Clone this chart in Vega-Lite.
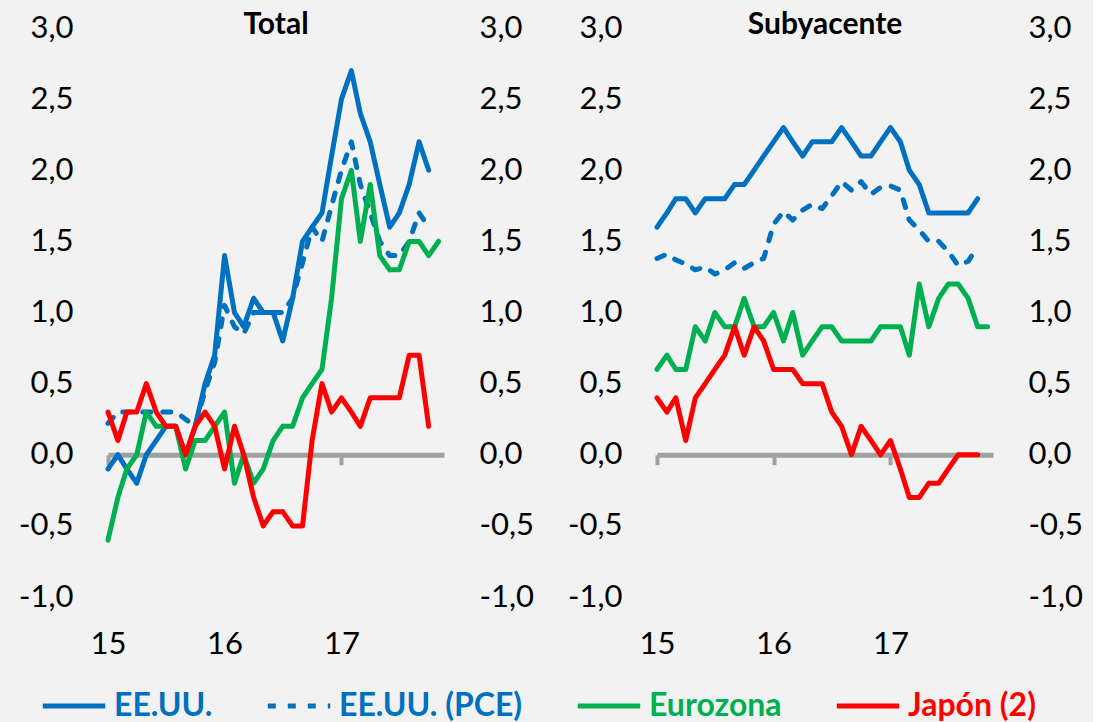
{
  "$schema": "https://vega.github.io/schema/vega-lite/v6.json",
  "background": "#F2F2F2",
  "padding": {"left": 18, "top": 10, "right": 10, "bottom": 0},
  "data": {"values": [
    {"p":"T","d":"2015-01-01","us":-0.1,"pce":0.22,"ez":-0.6,"jp":0.3},
    {"p":"T","d":"2015-02-01","us":0.0,"pce":0.3,"ez":-0.3,"jp":0.1},
    {"p":"T","d":"2015-03-01","us":-0.1,"pce":0.3,"ez":-0.1,"jp":0.3},
    {"p":"T","d":"2015-04-01","us":-0.2,"pce":0.3,"ez":0.0,"jp":0.3},
    {"p":"T","d":"2015-05-01","us":0.0,"pce":0.3,"ez":0.3,"jp":0.5},
    {"p":"T","d":"2015-06-01","us":0.1,"pce":0.3,"ez":0.2,"jp":0.3},
    {"p":"T","d":"2015-07-01","us":0.2,"pce":0.3,"ez":0.2,"jp":0.2},
    {"p":"T","d":"2015-08-01","us":0.2,"pce":0.3,"ez":0.2,"jp":0.2},
    {"p":"T","d":"2015-09-01","us":0.0,"pce":0.25,"ez":-0.1,"jp":0.0},
    {"p":"T","d":"2015-10-01","us":0.2,"pce":0.2,"ez":0.1,"jp":0.2},
    {"p":"T","d":"2015-11-01","us":0.5,"pce":0.45,"ez":0.1,"jp":0.3},
    {"p":"T","d":"2015-12-01","us":0.7,"pce":0.65,"ez":0.2,"jp":0.2},
    {"p":"T","d":"2016-01-01","us":1.4,"pce":1.05,"ez":0.3,"jp":-0.1},
    {"p":"T","d":"2016-02-01","us":1.0,"pce":0.9,"ez":-0.2,"jp":0.2},
    {"p":"T","d":"2016-03-01","us":0.9,"pce":0.85,"ez":0.0,"jp":0.0},
    {"p":"T","d":"2016-04-01","us":1.1,"pce":1.0,"ez":-0.2,"jp":-0.3},
    {"p":"T","d":"2016-05-01","us":1.0,"pce":1.0,"ez":-0.1,"jp":-0.5},
    {"p":"T","d":"2016-06-01","us":1.0,"pce":1.0,"ez":0.1,"jp":-0.4},
    {"p":"T","d":"2016-07-01","us":0.8,"pce":1.0,"ez":0.2,"jp":-0.4},
    {"p":"T","d":"2016-08-01","us":1.1,"pce":1.1,"ez":0.2,"jp":-0.5},
    {"p":"T","d":"2016-09-01","us":1.5,"pce":1.35,"ez":0.4,"jp":-0.5},
    {"p":"T","d":"2016-10-01","us":1.6,"pce":1.6,"ez":0.5,"jp":0.1},
    {"p":"T","d":"2016-11-01","us":1.7,"pce":1.5,"ez":0.6,"jp":0.5},
    {"p":"T","d":"2016-12-01","us":2.1,"pce":1.75,"ez":1.1,"jp":0.3},
    {"p":"T","d":"2017-01-01","us":2.5,"pce":2.0,"ez":1.8,"jp":0.4},
    {"p":"T","d":"2017-02-01","us":2.7,"pce":2.2,"ez":2.0,"jp":0.3},
    {"p":"T","d":"2017-03-01","us":2.4,"pce":1.9,"ez":1.5,"jp":0.2},
    {"p":"T","d":"2017-04-01","us":2.2,"pce":1.7,"ez":1.9,"jp":0.4},
    {"p":"T","d":"2017-05-01","us":1.9,"pce":1.5,"ez":1.4,"jp":0.4},
    {"p":"T","d":"2017-06-01","us":1.6,"pce":1.4,"ez":1.3,"jp":0.4},
    {"p":"T","d":"2017-07-01","us":1.7,"pce":1.4,"ez":1.3,"jp":0.4},
    {"p":"T","d":"2017-08-01","us":1.9,"pce":1.5,"ez":1.5,"jp":0.7},
    {"p":"T","d":"2017-09-01","us":2.2,"pce":1.7,"ez":1.5,"jp":0.7},
    {"p":"T","d":"2017-10-01","us":2.0,"pce":1.6,"ez":1.4,"jp":0.2},
    {"p":"T","d":"2017-11-01","us":null,"pce":null,"ez":1.5,"jp":null},
    {"p":"S","d":"2015-01-01","us":1.6,"pce":1.38,"ez":0.6,"jp":0.4},
    {"p":"S","d":"2015-02-01","us":1.7,"pce":1.41,"ez":0.7,"jp":0.3},
    {"p":"S","d":"2015-03-01","us":1.8,"pce":1.37,"ez":0.6,"jp":0.4},
    {"p":"S","d":"2015-04-01","us":1.8,"pce":1.34,"ez":0.6,"jp":0.1},
    {"p":"S","d":"2015-05-01","us":1.7,"pce":1.30,"ez":0.9,"jp":0.4},
    {"p":"S","d":"2015-06-01","us":1.8,"pce":1.32,"ez":0.8,"jp":0.5},
    {"p":"S","d":"2015-07-01","us":1.8,"pce":1.27,"ez":1.0,"jp":0.6},
    {"p":"S","d":"2015-08-01","us":1.8,"pce":1.30,"ez":0.9,"jp":0.7},
    {"p":"S","d":"2015-09-01","us":1.9,"pce":1.35,"ez":0.9,"jp":0.9},
    {"p":"S","d":"2015-10-01","us":1.9,"pce":1.31,"ez":1.1,"jp":0.7},
    {"p":"S","d":"2015-11-01","us":2.0,"pce":1.35,"ez":0.9,"jp":0.9},
    {"p":"S","d":"2015-12-01","us":2.1,"pce":1.38,"ez":0.9,"jp":0.8},
    {"p":"S","d":"2016-01-01","us":2.2,"pce":1.62,"ez":1.0,"jp":0.6},
    {"p":"S","d":"2016-02-01","us":2.3,"pce":1.71,"ez":0.8,"jp":0.6},
    {"p":"S","d":"2016-03-01","us":2.2,"pce":1.65,"ez":1.0,"jp":0.6},
    {"p":"S","d":"2016-04-01","us":2.1,"pce":1.72,"ez":0.7,"jp":0.5},
    {"p":"S","d":"2016-05-01","us":2.2,"pce":1.76,"ez":0.8,"jp":0.5},
    {"p":"S","d":"2016-06-01","us":2.2,"pce":1.73,"ez":0.9,"jp":0.5},
    {"p":"S","d":"2016-07-01","us":2.2,"pce":1.82,"ez":0.9,"jp":0.3},
    {"p":"S","d":"2016-08-01","us":2.3,"pce":1.92,"ez":0.8,"jp":0.2},
    {"p":"S","d":"2016-09-01","us":2.2,"pce":1.86,"ez":0.8,"jp":0.0},
    {"p":"S","d":"2016-10-01","us":2.1,"pce":1.92,"ez":0.8,"jp":0.2},
    {"p":"S","d":"2016-11-01","us":2.1,"pce":1.83,"ez":0.8,"jp":0.1},
    {"p":"S","d":"2016-12-01","us":2.2,"pce":1.88,"ez":0.9,"jp":0.0},
    {"p":"S","d":"2017-01-01","us":2.3,"pce":1.89,"ez":0.9,"jp":0.1},
    {"p":"S","d":"2017-02-01","us":2.2,"pce":1.86,"ez":0.9,"jp":-0.1},
    {"p":"S","d":"2017-03-01","us":2.0,"pce":1.65,"ez":0.7,"jp":-0.3},
    {"p":"S","d":"2017-04-01","us":1.9,"pce":1.58,"ez":1.2,"jp":-0.3},
    {"p":"S","d":"2017-05-01","us":1.7,"pce":1.50,"ez":0.9,"jp":-0.2},
    {"p":"S","d":"2017-06-01","us":1.7,"pce":1.50,"ez":1.1,"jp":-0.2},
    {"p":"S","d":"2017-07-01","us":1.7,"pce":1.43,"ez":1.2,"jp":-0.1},
    {"p":"S","d":"2017-08-01","us":1.7,"pce":1.33,"ez":1.2,"jp":0.0},
    {"p":"S","d":"2017-09-01","us":1.7,"pce":1.36,"ez":1.1,"jp":0.0},
    {"p":"S","d":"2017-10-01","us":1.8,"pce":1.46,"ez":0.9,"jp":0.0},
    {"p":"S","d":"2017-11-01","us":null,"pce":null,"ez":0.9,"jp":null}
  ]},
  "bounds": "flush",
  "spacing": 213,
  "hconcat": [
    {
      "title": {"text": "Total", "baseline": "middle", "offset": -43},
      "width": 336, "height": 569,
      "transform": [{"filter": "datum.p == 'T'"}, {"fold": ["us","pce","ez","jp"], "as": ["s","v"]}],
      "layer": [
        {
          "mark": {"type": "line", "strokeWidth": 5, "strokeCap": "round", "strokeJoin": "round"},
          "encoding": {
            "x": {"field": "d", "type": "temporal",
              "scale": {"type": "utc", "domain": [{"year": 2015, "month": 1, "date": 1, "utc": true}, {"year": 2017, "month": 11, "date": 18, "utc": true}]},
              "axis": {"orient": "bottom", "offset": -142.25, "values": [{"year": 2015, "month": 1, "date": 1, "utc": true}, {"year": 2016, "month": 1, "date": 1, "utc": true}, {"year": 2017, "month": 1, "date": 1, "utc": true}], "format": "%y", "labelFlush": false, "domainColor": "#A0A0A0", "domainWidth": 5, "tickColor": "#A0A0A0", "tickWidth": 4, "tickSize": 10, "labelPadding": 165, "grid": false, "title": null}},
            "y": {"field": "v", "type": "quantitative", "scale": {"domain": [-1, 3], "nice": false},
              "axis": {"orient": "left", "values": [-1,-0.5,0,0.5,1,1.5,2,2.5,3], "domain": false, "ticks": false, "grid": false, "labelPadding": 35, "title": null, "labelExpr": "replace(replace(format(datum.value, '.1f'), '.', ','), '\u2212', '-')"}},
            "color": {"field": "s", "type": "nominal", "scale": {"domain": ["us","pce","ez","jp"], "range": ["#0070C0","#0070C0","#00B050","#FF0000"]},
              "legend": {"title": null, "orient": "none", "legendX": -68, "legendY": 661, "direction": "horizontal", "symbolType": "stroke", "symbolSize": 3900, "symbolStrokeWidth": 5, "clipHeight": 34, "labelFont": "Lato", "labelFontSize": 32, "labelFontWeight": "bold", "labelLimit": 400, "labelOffset": 6, "columnPadding": 52,
                "labelExpr": "datum.label == 'us' ? 'EE.UU.' : datum.label == 'pce' ? 'EE.UU. (PCE)' : datum.label == 'ez' ? 'Eurozona' : 'Japón (2)'",
                "encode": {"labels": {"update": {"fill": {"signal": "datum.value == 'ez' ? '#00B050' : datum.value == 'jp' ? '#FF0000' : '#0070C0'"}}}}}},
            "strokeDash": {"field": "s", "type": "nominal", "scale": {"domain": ["us","pce","ez","jp"], "range": [[1,0],[8,12],[1,0],[1,0]]},
              "legend": {"title": null, "orient": "none", "legendX": -68, "legendY": 661, "direction": "horizontal", "symbolType": "stroke", "symbolSize": 3900, "symbolStrokeWidth": 5, "clipHeight": 34, "labelFont": "Lato", "labelFontSize": 32, "labelFontWeight": "bold", "labelLimit": 400, "labelOffset": 6, "columnPadding": 52,
                "labelExpr": "datum.label == 'us' ? 'EE.UU.' : datum.label == 'pce' ? 'EE.UU. (PCE)' : datum.label == 'ez' ? 'Eurozona' : 'Japón (2)'",
                "encode": {"labels": {"update": {"fill": {"signal": "datum.value == 'ez' ? '#00B050' : datum.value == 'jp' ? '#FF0000' : '#0070C0'"}}}}}}
          }
        },
        {
          "mark": {"type": "point", "opacity": 0},
          "encoding": {
            "y": {"field": "v", "type": "quantitative", "scale": {"domain": [-1, 3], "nice": false},
              "axis": {"orient": "right", "values": [-1,-0.5,0,0.5,1,1.5,2,2.5,3], "domain": false, "ticks": false, "grid": false, "labelPadding": 35, "title": null, "labelExpr": "replace(replace(format(datum.value, '.1f'), '.', ','), '\u2212', '-')"}}
          }
        }
      ],
      "resolve": {"axis": {"y": "independent"}}
    },
    {
      "title": {"text": "Subyacente", "baseline": "middle", "offset": -43},
      "width": 336, "height": 569,
      "transform": [{"filter": "datum.p == 'S'"}, {"fold": ["us","pce","ez","jp"], "as": ["s","v"]}],
      "layer": [
        {
          "mark": {"type": "line", "strokeWidth": 5, "strokeCap": "round", "strokeJoin": "round"},
          "encoding": {
            "x": {"field": "d", "type": "temporal",
              "scale": {"type": "utc", "domain": [{"year": 2015, "month": 1, "date": 1, "utc": true}, {"year": 2017, "month": 11, "date": 18, "utc": true}]},
              "axis": {"orient": "bottom", "offset": -142.25, "values": [{"year": 2015, "month": 1, "date": 1, "utc": true}, {"year": 2016, "month": 1, "date": 1, "utc": true}, {"year": 2017, "month": 1, "date": 1, "utc": true}], "format": "%y", "labelFlush": false, "domainColor": "#A0A0A0", "domainWidth": 5, "tickColor": "#A0A0A0", "tickWidth": 4, "tickSize": 10, "labelPadding": 165, "grid": false, "title": null}},
            "y": {"field": "v", "type": "quantitative", "scale": {"domain": [-1, 3], "nice": false},
              "axis": {"orient": "left", "values": [-1,-0.5,0,0.5,1,1.5,2,2.5,3], "domain": false, "ticks": false, "grid": false, "labelPadding": 35, "title": null, "labelExpr": "replace(replace(format(datum.value, '.1f'), '.', ','), '\u2212', '-')"}},
            "color": {"field": "s", "type": "nominal", "scale": {"domain": ["us","pce","ez","jp"], "range": ["#0070C0","#0070C0","#00B050","#FF0000"]},
              "legend": {"title": null, "orient": "none", "legendX": -68, "legendY": 661, "direction": "horizontal", "symbolType": "stroke", "symbolSize": 3900, "symbolStrokeWidth": 5, "clipHeight": 34, "labelFont": "Lato", "labelFontSize": 32, "labelFontWeight": "bold", "labelLimit": 400, "labelOffset": 6, "columnPadding": 52,
                "labelExpr": "datum.label == 'us' ? 'EE.UU.' : datum.label == 'pce' ? 'EE.UU. (PCE)' : datum.label == 'ez' ? 'Eurozona' : 'Japón (2)'",
                "encode": {"labels": {"update": {"fill": {"signal": "datum.value == 'ez' ? '#00B050' : datum.value == 'jp' ? '#FF0000' : '#0070C0'"}}}}}},
            "strokeDash": {"field": "s", "type": "nominal", "scale": {"domain": ["us","pce","ez","jp"], "range": [[1,0],[8,12],[1,0],[1,0]]},
              "legend": {"title": null, "orient": "none", "legendX": -68, "legendY": 661, "direction": "horizontal", "symbolType": "stroke", "symbolSize": 3900, "symbolStrokeWidth": 5, "clipHeight": 34, "labelFont": "Lato", "labelFontSize": 32, "labelFontWeight": "bold", "labelLimit": 400, "labelOffset": 6, "columnPadding": 52,
                "labelExpr": "datum.label == 'us' ? 'EE.UU.' : datum.label == 'pce' ? 'EE.UU. (PCE)' : datum.label == 'ez' ? 'Eurozona' : 'Japón (2)'",
                "encode": {"labels": {"update": {"fill": {"signal": "datum.value == 'ez' ? '#00B050' : datum.value == 'jp' ? '#FF0000' : '#0070C0'"}}}}}}
          }
        },
        {
          "mark": {"type": "point", "opacity": 0},
          "encoding": {
            "y": {"field": "v", "type": "quantitative", "scale": {"domain": [-1, 3], "nice": false},
              "axis": {"orient": "right", "values": [-1,-0.5,0,0.5,1,1.5,2,2.5,3], "domain": false, "ticks": false, "grid": false, "labelPadding": 35, "title": null, "labelExpr": "replace(replace(format(datum.value, '.1f'), '.', ','), '\u2212', '-')"}}
          }
        }
      ],
      "resolve": {"axis": {"y": "independent"}}
    }
  ],
  "config": {
    "view": {"stroke": null},
    "font": "Lato",
    "title": {"fontSize": 30, "fontWeight": "bold", "font": "Lato", "color": "#000000", "anchor": "middle"},
    "axis": {"labelFont": "Lato", "labelFontSize": 31, "labelColor": "#000000", "labelFontWeight": "normal"}
  }
}
